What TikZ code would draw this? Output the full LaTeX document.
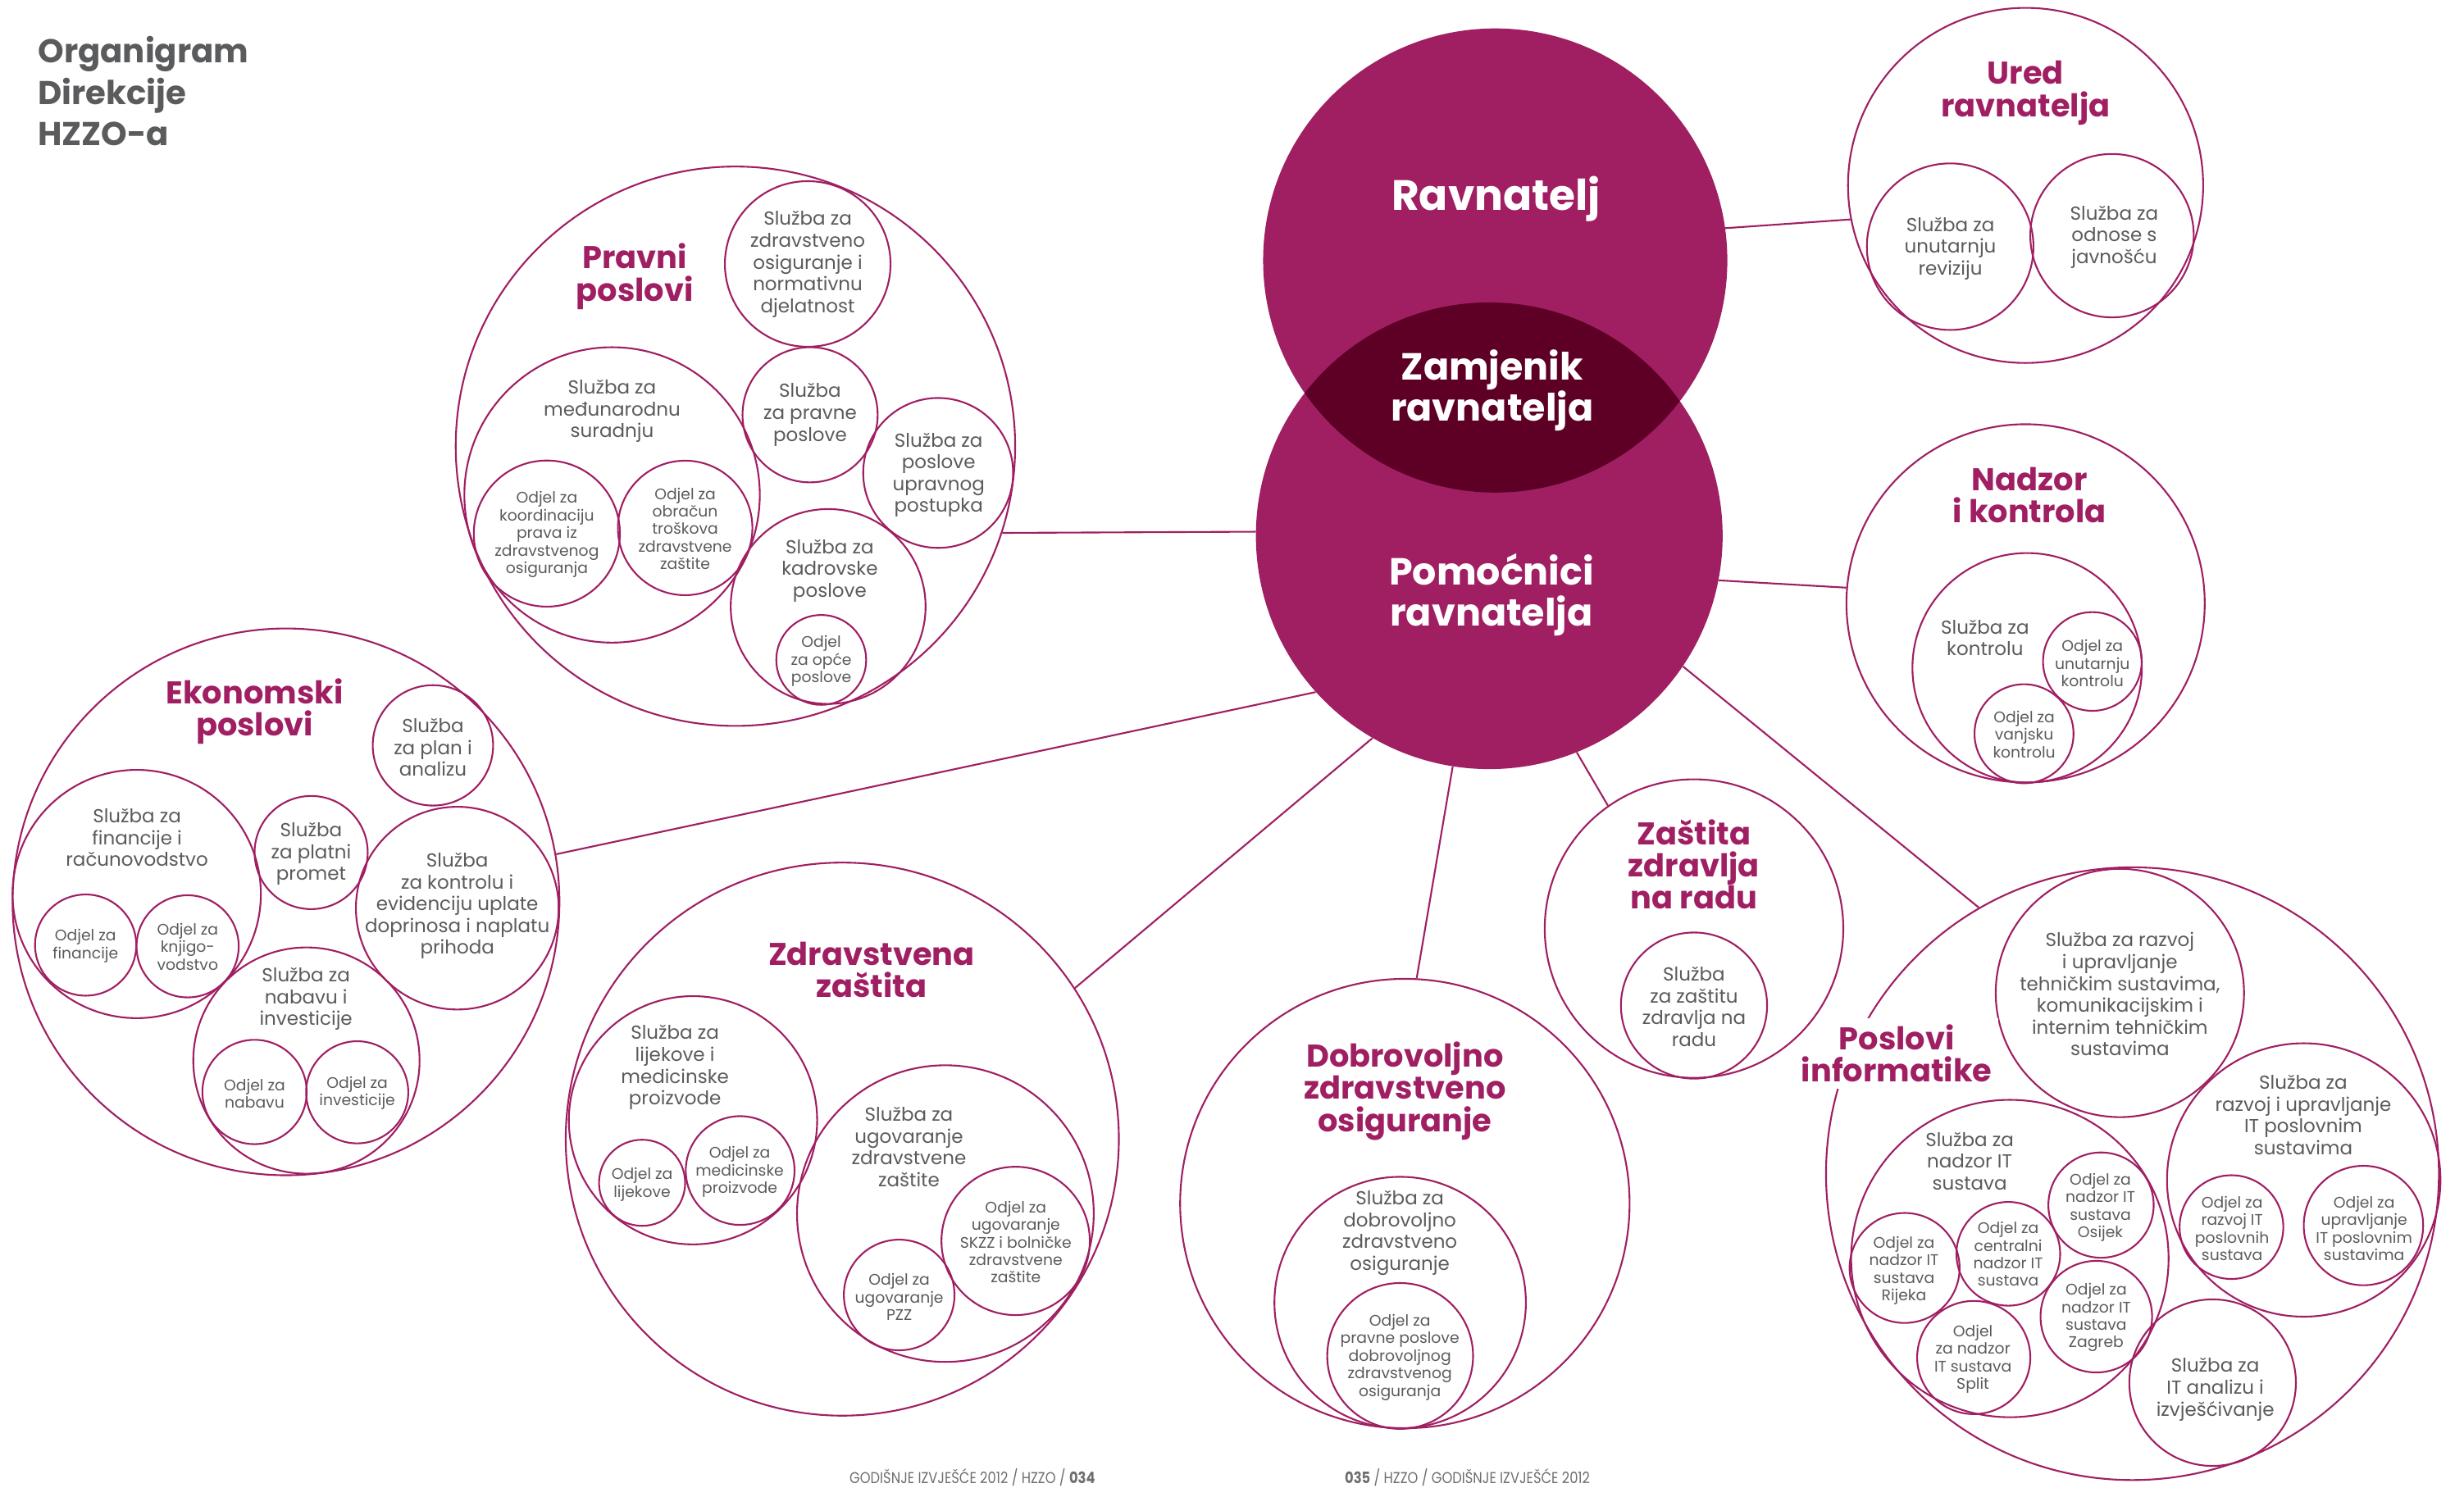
\documentclass[tikz,border=0pt]{standalone}
\usepackage{fontspec}
\setmainfont{Poppins}
\newfontfamily\footfont[FakeStretch=0.85]{Poppins}
\definecolor{mag}{RGB}{160,31,99}
\definecolor{magdark}{RGB}{94,0,38}
\definecolor{txt}{RGB}{90,91,93}
\definecolor{foot}{RGB}{110,110,110}
\begin{document}
\begin{tikzpicture}[x=1pt,y=-1pt,
 ring/.style={circle,draw=mag,line width=1.1pt,inner sep=0pt,minimum size=2*#1pt},
 disc/.style={circle,fill=mag,inner sep=0pt,minimum size=2*#1pt},
 link/.style={draw=mag,line width=1.1pt},
 tbody/.style={text=txt,align=center,inner sep=0pt,font=\fontsize{12}{13.9}\selectfont},
 tsmall/.style={text=txt,align=center,inner sep=0pt,font=\fontsize{9.8}{11.2}\selectfont},
 thead/.style={text=mag,align=center,inner sep=0pt,font=\fontsize{20}{20.5}\selectfont\bfseries},
 tctr/.style={text=white,align=center,inner sep=0pt,font=\fontsize{24}{26.2}\selectfont\bfseries},
]
\useasboundingbox (0,0) rectangle (1568,947);
\fill[white] (0,0) rectangle (1568,947);

% title
\node[anchor=west,align=left,inner sep=0pt,text=txt,font=\fontsize{21}{26.2}\selectfont\bfseries] (title) at (24,58) {Organigram\\Direkcije\\HZZO-a};

% centre
\node[disc=147.7] (rav) at (951.5,165.8) {};
\node[disc=148.5] (pom) at (947.7,341) {};
\begin{scope}
\clip (rav.center) circle[radius=147.7];
\fill[magdark] (pom.center) circle[radius=148.5];
\end{scope}
\node[tctr,font=\fontsize{27}{30}\selectfont\bfseries] (travn) at (952,126.4) {Ravnatelj};
\node[tctr] (tzam) at (949.5,248.4) {Zamjenik\\ravnatelja};
\node[tctr] (tpom) at (949.1,378.5) {Pomoćnici\\ravnatelja};

% Pravni poslovi
\node[ring=178] (pravni) at (468,284) {};
\node[ring=52.7] (p1) at (514,168) {};
\node[ring=43] (p2) at (515.5,264) {};
\node[ring=47.7] (p3) at (597,301) {};
\node[ring=94] (p4) at (389.5,315) {};
\node[ring=46.5] (p5) at (348,339.6) {};
\node[ring=42.8] (p6) at (436,336) {};
\node[ring=62] (p7) at (527,386) {};
\node[ring=28.6] (p8) at (522.6,420) {};
\node[thead] (tpravni) at (404,176) {Pravni\\poslovi};
\node[tbody] (tp1) at (514,168.3) {Služba za\\zdravstveno\\osiguranje i\\normativnu\\djelatnost};
\node[tbody] (tp2) at (515.5,263.9) {Služba\\za pravne\\poslove};
\node[tbody] (tp3) at (597.3,302.3) {Služba za\\poslove\\upravnog\\postupka};
\node[tbody] (tp4) at (389.5,261.7) {Služba za\\međunarodnu\\suradnju};
\node[tsmall] (tp5) at (348,340.3) {Odjel za\\koordinaciju\\prava iz\\zdravstvenog\\osiguranja};
\node[tsmall] (tp6) at (436,336.5) {Odjel za\\obračun\\troškova\\zdravstvene\\zaštite};
\node[tbody] (tp7) at (528,363.2) {Služba za\\kadrovske\\poslove};
\node[tsmall] (tp8) at (522.6,420.9) {Odjel\\za opće\\poslove};

% Ekonomski poslovi
\node[ring=174] (ekon) at (182,574) {};
\node[ring=38.3] (e1) at (275.5,474.4) {};
\node[ring=79] (e2) at (87,569) {};
\node[ring=32.2] (e3) at (54.5,601.5) {};
\node[ring=32.5] (e4) at (119.4,602.3) {};
\node[ring=36] (e5) at (198,542.6) {};
\node[ring=64.5] (e6) at (291,578) {};
\node[ring=72] (e7) at (195,675) {};
\node[ring=33.2] (e8) at (162,695) {};
\node[ring=32.5] (e9) at (227.3,695.2) {};
\node[thead] (tekon) at (162,452.6) {Ekonomski\\poslovi};
\node[tbody] (te1) at (275.5,475.7) {Služba\\za plan i\\analizu};
\node[tbody] (te2) at (87.2,533) {Služba za\\financije i\\računovodstvo};
\node[tsmall] (te3) at (54.4,602) {Odjel za\\financije};
\node[tsmall] (te4) at (119.4,602.6) {Odjel za\\knjigo-\\vodstvo};
\node[tbody] (te5) at (198,543.5) {Služba\\za platni\\promet};
\node[tbody] (te6) at (291,576.6) {Služba\\za kontrolu i\\evidenciju uplate\\doprinosa i naplatu\\prihoda};
\node[tbody] (te7) at (194.7,635.8) {Služba za\\nabavu i\\investicije};
\node[tsmall] (te8) at (162,696) {Odjel za\\nabavu};
\node[tsmall] (te9) at (227.3,695.7) {Odjel za\\investicije};

% Zdravstvena zastita
\node[ring=176] (zdr) at (536,725) {};
\node[ring=79] (z1) at (441,713) {};
\node[ring=27.4] (z2) at (408.6,752.8) {};
\node[ring=34.6] (z3) at (471,745) {};
\node[ring=94.4] (z4) at (601.6,772.4) {};
\node[ring=47.2] (z5) at (646.3,789.8) {};
\node[ring=35.2] (z6) at (572.2,824.2) {};
\node[thead] (tzdr) at (554.6,617.3) {Zdravstvena\\zaštita};
\node[tbody] (tz1) at (429.5,679.5) {Služba za\\lijekove i\\medicinske\\proizvode};
\node[tsmall] (tz2) at (408.6,754) {Odjel za\\lijekove};
\node[tsmall] (tz3) at (470.7,746) {Odjel za\\medicinske\\proizvode};
\node[tbody] (tz4) at (578.4,730) {Služba za\\ugovaranje\\zdravstvene\\zaštite};
\node[tsmall] (tz5) at (646.4,790.5) {Odjel za\\ugovaranje\\SKZZ i bolničke\\zdravstvene\\zaštite};
\node[tsmall] (tz6) at (572.2,825.4) {Odjel za\\ugovaranje\\PZZ};

% Dobrovoljno
\node[ring=143] (dobro) at (894,766) {};
\node[ring=80] (d1) at (891,829) {};
\node[ring=46.4] (d2) at (891,863) {};
\node[thead] (tdobro) at (894,694.4) {Dobrovoljno\\zdravstveno\\osiguranje};
\node[tbody] (td1) at (890.8,784.8) {Služba za\\dobrovoljno\\zdravstveno\\osiguranje};
\node[tsmall] (td2) at (890.8,864) {Odjel za\\pravne poslove\\dobrovoljnog\\zdravstvenog\\osiguranja};

% Poslovi informatike
\node[ring=195] (info) at (1357,747) {};
\node[ring=79] (i1) at (1349,632) {};
\node[ring=87] (i2) at (1466,751) {};
\node[ring=33] (i3) at (1420,781) {};
\node[ring=38] (i4) at (1504,780) {};
\node[ring=101] (i5) at (1279,801) {};
\node[ring=35] (i6) at (1212,807) {};
\node[ring=33] (i7) at (1278,798) {};
\node[ring=33.5] (i8) at (1337,767) {};
\node[ring=36] (i9) at (1256,864) {};
\node[ring=35.5] (i10) at (1334,838) {};
\node[ring=53] (i11) at (1408,880) {};
\node[thead,fill=white,inner sep=4pt] (tinfo) at (1207,670.5) {Poslovi\\informatike};
\node[tbody] (ti1) at (1349,632.8) {Služba za razvoj\\i upravljanje\\tehničkim sustavima,\\komunikacijskim i\\internim tehničkim\\sustavima};
\node[tbody] (ti2) at (1465.7,709.6) {Služba za\\razvoj i upravljanje\\IT poslovnim\\sustavima};
\node[tsmall] (ti3) at (1420.4,781.8) {Odjel za\\razvoj IT\\poslovnih\\sustava};
\node[tsmall] (ti4) at (1504.4,781.8) {Odjel za\\upravljanje\\IT poslovnim\\sustavima};
\node[tbody] (ti5) at (1253.4,739) {Služba za\\nadzor IT\\sustava};
\node[tsmall] (ti6) at (1211.6,808.6) {Odjel za\\nadzor IT\\sustava\\Rijeka};
\node[tsmall] (ti7) at (1277.9,798.2) {Odjel za\\centralni\\nadzor IT\\sustava};
\node[tsmall] (ti8) at (1336.6,768.5) {Odjel za\\nadzor IT\\sustava\\Osijek};
\node[tsmall] (ti9) at (1255.5,865.1) {Odjel\\za nadzor\\IT sustava\\Split};
\node[tsmall] (ti10) at (1333.9,838.6) {Odjel za\\nadzor IT\\sustava\\Zagreb};
\node[tbody] (ti11) at (1409.7,884.4) {Služba za\\IT analizu i\\izvješćivanje};

% Zastita zdravlja na radu (drawn after informatike so its ring stays whole)
\node[ring=95] (zast) at (1078,591) {};
\node[ring=46.5] (s1) at (1078,640) {};
\node[thead] (tzast) at (1078,550.2) {Zaštita\\zdravlja\\na radu};
\node[tbody] (ts1) at (1078,640.7) {Služba\\za zaštitu\\zdravlja na\\radu};

% Ured ravnatelja
\node[ring=113] (ured) at (1289,118) {};
\node[ring=53] (u1) at (1241,157) {};
\node[ring=52] (u2) at (1344,150) {};
\node[thead] (tured) at (1289,59.2) {Ured\\ravnatelja};
\node[tbody] (tu1) at (1241.1,158.2) {Služba za\\unutarnju\\reviziju};
\node[tbody] (tu2) at (1345.4,150.8) {Služba za\\odnose s\\javnošću};

% Nadzor i kontrola
\node[ring=114] (nadzor) at (1289,384) {};
\node[ring=73] (n1) at (1290,425) {};
\node[ring=31.4] (n2) at (1331.5,421) {};
\node[ring=31.5] (n3) at (1288,467) {};
\node[thead] (tnadzor) at (1291.5,315) {Nadzor\\i kontrola};
\node[tbody] (tn1) at (1263.2,406) {Služba za\\kontrolu};
\node[tsmall] (tn2) at (1331.5,422.2) {Odjel za\\unutarnju\\kontrolu};
\node[tsmall] (tn3) at (1288.1,467.4) {Odjel za\\vanjsku\\kontrolu};

% connectors
\draw[link] (rav.8) -- (ured.191);
\draw[link] (pom.349) -- (nadzor.175);
\draw[link] (pravni.342) -- (pom.179);
\draw[link] (ekon.10) -- (pom.222);
\draw[link] (zdr.33) -- (pom.240);
\draw[link] (dobro.87) -- (pom.261);
\draw[link] (pom.292) -- (zast.125);
\draw[link] (pom.326) -- (info.120);

% footer
\node[anchor=west,inner sep=0pt,text=foot,font=\footfont\fontsize{10}{12}\selectfont] (footl) at (540.5,940.5) {GODIŠNJE IZVJEŠĆE 2012 / HZZO / \textbf{034}};
\node[anchor=east,inner sep=0pt,text=foot,font=\footfont\fontsize{10}{12}\selectfont] (footr) at (1012,940.5) {\textbf{035} / HZZO / GODIŠNJE IZVJEŠĆE 2012};
\end{tikzpicture}
\end{document}
